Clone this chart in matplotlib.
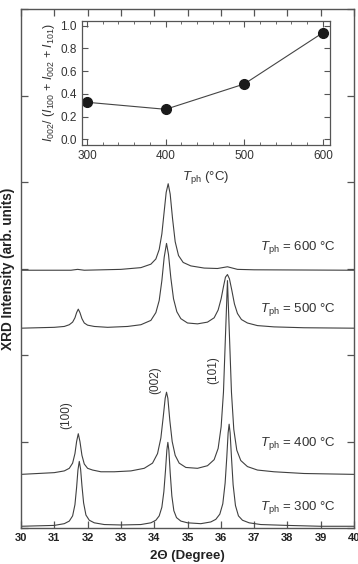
import matplotlib
matplotlib.use("Agg")
import matplotlib.pyplot as plt
from matplotlib.ticker import MultipleLocator

plt.rcParams['font.family'] = ['Liberation Sans', 'DejaVu Sans']
plt.rcParams['mathtext.fontset'] = 'custom'
plt.rcParams['mathtext.rm'] = 'Liberation Sans'
plt.rcParams['mathtext.it'] = 'Liberation Sans:italic'
plt.rcParams['mathtext.bf'] = 'Liberation Sans:bold'

# ---------------- data ----------------
# 300 C spectrum (2theta, intensity above baseline)
x300 = [30.0, 31.0, 31.3, 31.45, 31.55, 31.62, 31.67, 31.71, 31.75, 31.79, 31.83, 31.88, 31.95,
        32.05, 32.2, 32.5, 33.0, 33.6, 33.9, 34.05, 34.15, 34.23, 34.29, 34.34, 34.38, 34.41,
        34.44, 34.48, 34.53, 34.59, 34.67, 34.8, 35.0, 35.4, 35.7, 35.85, 35.97, 36.06, 36.13,
        36.18, 36.22, 36.25, 36.28, 36.32, 36.37, 36.44, 36.53, 36.65, 36.85, 37.2, 38.0, 39.0, 40.0]
y300 = [0.0, 0.01, 0.03, 0.06, 0.12, 0.25, 0.45, 0.65, 0.75, 0.66, 0.47, 0.27, 0.13,
        0.07, 0.04, 0.02, 0.015, 0.02, 0.04, 0.07, 0.12, 0.22, 0.40, 0.65, 0.88, 0.97,
        0.88, 0.62, 0.35, 0.18, 0.10, 0.06, 0.04, 0.03, 0.05, 0.08, 0.14, 0.26, 0.50,
        0.80, 1.08, 1.18, 1.08, 0.80, 0.48, 0.24, 0.12, 0.07, 0.04, 0.02, 0.01, 0.0, 0.0]

x400 = [30.0, 31.0, 31.3, 31.45, 31.55, 31.62, 31.67, 31.72, 31.77, 31.83, 31.9, 32.0, 32.15,
        32.4, 32.8, 33.3, 33.7, 33.95, 34.1, 34.2, 34.27, 34.33, 34.37, 34.41, 34.47, 34.54,
        34.63, 34.75, 34.95, 35.3, 35.6, 35.8, 35.92, 36.01, 36.08, 36.14, 36.2, 36.26, 36.32,
        36.39, 36.48, 36.6, 36.8, 37.1, 37.6, 38.5, 40.0]
y400 = [0.0, 0.02, 0.04, 0.07, 0.13, 0.24, 0.38, 0.47, 0.38, 0.22, 0.12, 0.07, 0.05,
        0.03, 0.03, 0.04, 0.07, 0.13, 0.24, 0.42, 0.66, 0.88, 0.95, 0.88, 0.62, 0.38,
        0.22, 0.13, 0.08, 0.07, 0.10, 0.17, 0.30, 0.55, 0.95, 1.60, 2.24, 1.60, 0.95,
        0.52, 0.28, 0.16, 0.09, 0.05, 0.03, 0.01, 0.0]

x500 = [30.0, 31.0, 31.3, 31.45, 31.55, 31.62, 31.67, 31.72, 31.77, 31.83, 31.9, 32.0, 32.2,
        32.6, 33.2, 33.6, 33.9, 34.05, 34.15, 34.23, 34.3, 34.37, 34.43, 34.5, 34.58, 34.68,
        34.8, 35.0, 35.3, 35.6, 35.8, 35.92, 36.01, 36.08, 36.14, 36.2, 36.26, 36.33, 36.41,
        36.5, 36.62, 36.8, 37.1, 37.6, 38.5, 40.0]
y500 = [0.0, 0.01, 0.02, 0.04, 0.07, 0.12, 0.18, 0.22, 0.18, 0.11, 0.06, 0.035, 0.02,
        0.01, 0.02, 0.04, 0.09, 0.18, 0.32, 0.55, 0.82, 0.98, 0.85, 0.58, 0.34, 0.19,
        0.11, 0.06, 0.05, 0.07, 0.12, 0.21, 0.34, 0.48, 0.59, 0.62, 0.57, 0.44, 0.28,
        0.17, 0.10, 0.06, 0.03, 0.015, 0.005, 0.0]

x600 = [30.0, 31.5, 31.7, 31.9, 33.0, 33.6, 33.9, 34.05, 34.15, 34.23, 34.3, 34.36, 34.42,
        34.48, 34.55, 34.63, 34.73, 34.87, 35.1, 35.5, 35.9, 36.05, 36.2, 36.35, 36.5, 37.0, 40.0]
y600 = [0.0, 0.0, 0.01, 0.0, 0.01, 0.03, 0.07, 0.13, 0.24, 0.42, 0.68, 0.90, 1.00,
        0.88, 0.60, 0.33, 0.17, 0.09, 0.05, 0.025, 0.02, 0.03, 0.04, 0.025, 0.01, 0.005, 0.0]

baselines = {300: 0.02, 400: 0.62, 500: 2.31, 600: 2.98}
series = {300: (x300, y300), 400: (x400, y400), 500: (x500, y500), 600: (x600, y600)}
label_y = {300: 0.24, 400: 0.98, 500: 2.53, 600: 3.24}

peak_labels = ['(100)', '(002)', '(101)']
peak_label_x = [31.37, 34.02, 35.77]
peak_label_y = [1.31, 1.71, 1.83]

# inset data
t_ph = [300, 400, 500, 600]
ratio = [0.326, 0.264, 0.487, 0.938]

# ---------------- figure ----------------
fig = plt.figure(figsize=(3.58, 5.64), dpi=100)
ax = fig.add_axes([21/358, 1-528/564, 333/358, 519/564])
frame = '#555555'
line_c = '#404040'

for T, (xs, ys) in series.items():
    b = baselines[T]
    ax.plot(xs, [v + b for v in ys], color=line_c, lw=0.8)
    ax.text(38.32, label_y[T], r'$T_{\mathrm{ph}}$ = %d °C' % T, ha='center', va='center',
            fontsize=9.5, color='#333333')

for lab, px, py in zip(peak_labels, peak_label_x, peak_label_y):
    ax.text(px, py, lab, rotation=90, ha='center', va='center', fontsize=8.5, color='#333333')

ax.set_xlim(30, 40)
ax.set_ylim(0, 6)
ax.xaxis.set_major_locator(MultipleLocator(1))
ax.yaxis.set_major_locator(MultipleLocator(1))
ax.tick_params(direction='in', top=True, right=True, length=5, width=0.9, color=frame,
               labelsize=8, labelcolor='#222222')
ax.set_yticklabels([])
for lbl in ax.get_xticklabels():
    lbl.set_fontweight('bold')
for s in ax.spines.values():
    s.set_color(frame)
    s.set_linewidth(1.0)
ax.set_xlabel('2Θ (Degree)', fontsize=9.5, fontweight='bold', color='#222222', labelpad=5)
ax.set_ylabel('XRD Intensity (arb. units)', fontsize=9.8, fontweight='bold', color='#222222',
              labelpad=0.5)

# inset
ins = fig.add_axes([81.5/358, 1-145/564, 248.5/358, 124/564])
ins.plot(t_ph, ratio, color='#444444', lw=0.8, marker='o', markersize=7,
         markerfacecolor='#1a1a1a', markeredgecolor='#1a1a1a')
ins.set_xlim(293, 609)
ins.set_ylim(-0.05, 1.041)
ins.xaxis.set_major_locator(MultipleLocator(100))
ins.xaxis.set_minor_locator(MultipleLocator(20))
ins.yaxis.set_major_locator(MultipleLocator(0.2))
ins.tick_params(which='both', direction='in', top=True, right=True, color=frame,
                labelsize=8.5, labelcolor='#333333')
ins.tick_params(which='major', length=4, width=0.8)
ins.tick_params(which='minor', length=2.5, width=0.6)
ins.set_yticks([0.0, 0.2, 0.4, 0.6, 0.8, 1.0])
ins.set_yticklabels(['0.0', '0.2', '0.4', '0.6', '0.8', '1.0'])
for s in ins.spines.values():
    s.set_color(frame)
    s.set_linewidth(0.9)
ins.set_xlabel(r'$T_{\mathrm{ph}}$ (°C)', fontsize=9.5, color='#333333', labelpad=5)
ins.set_ylabel(r'$I_{002}$/ ($I_{100}$ + $I_{002}$ + $I_{101}$)', fontsize=9,
               color='#333333', labelpad=2)

fig.savefig('out.png', dpi=100)
